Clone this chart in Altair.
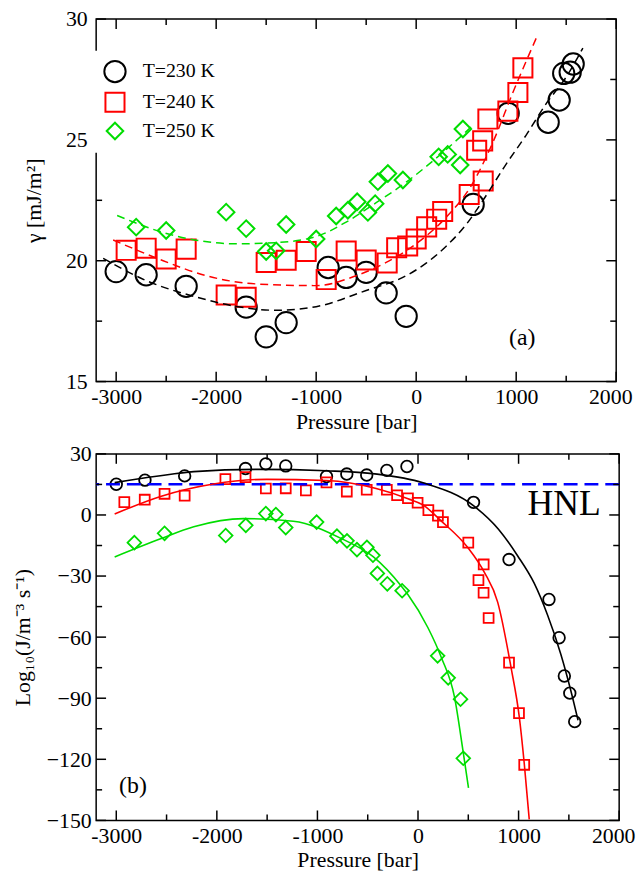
import altair as alt
import pandas as pd

FONT = "Liberation Serif"
SERIES = ["T=230 K", "T=240 K", "T=250 K"]
COLORS = ["#000000", "#ff0000", "#00dd00"]
SHAPES = ["circle", "square", "diamond"]

# ---------------- panel (a): surface tension ----------------
a230_p = [-3000, -2700, -2300, -1700, -1500, -1300, -880, -700, -500, -300, -100, 570, 920, 1320, 1430, 1475, 1540, 1570]
a230_g = [19.55, 19.42, 18.94, 18.08, 16.85, 17.44, 19.72, 19.31, 19.52, 18.67, 17.70, 22.33, 26.10, 25.73, 26.65, 27.75, 27.80, 28.14]

a240_p = [-2900, -2700, -2500, -2300, -1900, -1700, -1500, -1300, -1100, -900, -700, -500, -290, -195, -85, 0, 105, 205, 265, 530, 670, 605, 665, 717, 917, 1017, 1067]
a240_g = [20.43, 20.52, 20.07, 20.48, 18.58, 18.49, 19.93, 20.02, 20.38, 19.22, 20.40, 20.03, 19.91, 20.54, 20.61, 20.90, 21.40, 21.72, 22.04, 22.74, 23.30, 24.57, 24.96, 25.86, 26.19, 26.96, 27.98]

a250_p = [-2800, -2500, -1900, -1700, -1500, -1400, -1300, -1000, -800, -683, -590, -483, -410, -383, -283, -133, 225, 315, 440, 467]
a250_g = [21.39, 21.25, 22.01, 21.33, 20.38, 20.41, 21.50, 20.90, 21.85, 22.09, 22.44, 22.00, 22.36, 23.27, 23.61, 23.34, 24.30, 24.40, 23.96, 25.45]

fa230_p = [-3130, -2700, -2200, -1800, -1400, -1000, -500, -100, 100, 300, 500, 700, 900, 1100, 1300, 1500, 1667]
fa230_g = [20.10, 19.18, 18.50, 18.11, 17.95, 18.10, 18.77, 19.38, 19.90, 20.60, 21.50, 22.70, 24.00, 25.20, 26.50, 27.60, 28.80]

fa240_p = [-3030, -2530, -2100, -1600, -1000, -600, -300, 0, 300, 550, 767, 967, 1210]
fa240_g = [20.86, 20.00, 19.38, 19.04, 18.97, 19.38, 19.93, 20.70, 21.80, 23.10, 24.90, 26.96, 29.30]

fa250_p = [-2990, -2400, -1800, -1400, -1000, -700, -400, -100, 230, 567]
fa250_g = [21.87, 21.02, 20.70, 20.75, 21.00, 21.60, 22.40, 23.25, 24.35, 25.60]

# ---------------- panel (b): nucleation rate ----------------
b230_p = [-3000, -2715, -2320, -1715, -1513, -1315, -910, -708, -510, -310, -110, 552, 905, 1302, 1403, 1455, 1509, 1558]
b230_v = [15.1, 17.1, 19.2, 22.8, 25.1, 24.1, 18.9, 20.1, 19.6, 21.9, 23.8, 6.2, -21.9, -41.5, -60.3, -79.1, -87.5, -101.5]

b240_p = [-2920, -2717, -2520, -2320, -1915, -1715, -1513, -1315, -1115, -910, -708, -510, -310, -208, -100, -4, 103, 198, 248, 500, 601, 653, 652, 702, 905, 1004, 1056]
b240_v = [6.3, 7.5, 10.4, 9.5, 17.6, 18.6, 13.0, 13.1, 12.1, 16.0, 11.5, 12.4, 12.4, 9.7, 8.2, 6.0, 2.4, -0.3, -3.5, -13.6, -32.0, -24.3, -38.2, -50.6, -72.5, -97.3, -122.7]

b250_p = [-2820, -2520, -1912, -1712, -1513, -1413, -1315, -1008, -806, -706, -607, -508, -448, -404, -305, -158, 195, 300, 423, 450]
b250_v = [-13.6, -9.0, -10.1, -5.1, 0.7, 0.2, -6.2, -3.5, -10.4, -12.7, -17.0, -15.9, -19.8, -28.7, -33.8, -37.2, -69.2, -80.0, -90.5, -119.5]

fb230_p = [-3016, -2600, -2230, -1570, -911, -429, 50, 561, 800, 990, 1155, 1287, 1420, 1519, 1591]
fb230_v = [15.9, 19.0, 21.3, 22.4, 21.7, 20.2, 15.8, 4.2, -7.0, -20.0, -33.5, -49.0, -68.4, -86.2, -100.8]

fb240_p = [-3016, -2560, -2033, -1505, -911, -416, -99, 47, 232, 495, 660, 792, 925, 1007, 1056, 1106]
fb240_v = [0.5, 9.1, 15.2, 17.5, 16.9, 13.0, 8.0, 5.0, -3.0, -16.0, -28.2, -42.8, -74.9, -99.2, -121.9, -149.5]

fb250_p = [-3016, -2560, -2230, -1735, -1240, -745, -446, -165, -99, 99, 232, 363, 446, 502]
fb250_v = [-20.6, -11.7, -5.8, -1.8, -3.1, -12.0, -20.5, -35.0, -39.2, -55.4, -70.0, -89.5, -115.4, -134.0]

hnl_v = [15.1]

# axis tick values
x_major = [-3000, -2000, -1000, 0, 1000, 2000]
x_minor = [-2500, -1500, -500, 500, 1500]
ya_major = [15, 20, 25, 30]
ya_minor = [17.5, 22.5, 27.5]
yb_major = [-150, -120, -90, -60, -30, 0, 30]
yb_minor = [-135, -105, -75, -45, -15, 15]

WA, HA = 525, 366
WB, HB = 528, 370

xs = alt.Scale(domain=[-3200, 2000], nice=False, zero=False)
ysa = alt.Scale(domain=[15, 30], nice=False, zero=False)
ysb = alt.Scale(domain=[-150, 30], nice=False, zero=False)


def frame_ticks(xscale, yscale, ymaj, ymin, W, H):
    layers = []
    for vals, L in ((x_major, 10), (x_minor, 6)):
        base = alt.Chart(pd.DataFrame({"P": vals})).mark_rule(color="black", strokeWidth=1.5)
        layers.append(base.encode(x=alt.X("P:Q", scale=xscale), y=alt.value(H), y2=alt.value(H - L)))
        layers.append(base.encode(x=alt.X("P:Q", scale=xscale), y=alt.value(0), y2=alt.value(L)))
    for vals, L in ((ymaj, 10), (ymin, 6)):
        base = alt.Chart(pd.DataFrame({"y": vals})).mark_rule(color="black", strokeWidth=1.5)
        layers.append(base.encode(y=alt.Y("y:Q", scale=yscale), x=alt.value(0), x2=alt.value(L)))
        layers.append(base.encode(y=alt.Y("y:Q", scale=yscale), x=alt.value(W), x2=alt.value(W - L)))
    return layers


x_axis = alt.Axis(values=x_major, title="Pressure [bar]", labelExpr="'' + datum.value",
                  labelPadding=5, titlePadding=4, labelOverlap=False,
                  labelFlush=5, labelFlushOffset=16)

# ---- panel (a)
pts_a = pd.concat([
    pd.DataFrame({"P": a230_p, "y": a230_g, "T": SERIES[0]}),
    pd.DataFrame({"P": a240_p, "y": a240_g, "T": SERIES[1]}),
    pd.DataFrame({"P": a250_p, "y": a250_g, "T": SERIES[2]}),
])

leg = alt.Legend(title=None, orient="none", legendX=-2, legendY=32, fillColor="white",
                 padding=9, labelFont=FONT, labelFontSize=20, labelColor="black",
                 symbolStrokeWidth=2, rowPadding=2, labelOffset=16)

pts_a_chart = alt.Chart(pts_a).mark_point(filled=False, strokeWidth=2, opacity=1).encode(
    x=alt.X("P:Q", scale=xs, axis=x_axis),
    y=alt.Y("y:Q", scale=ysa, axis=alt.Axis(values=ya_major, title="γ [mJ/m²]", labelPadding=9,
                                               titlePadding=20, labelOverlap=False, labelFlush=False)),
    color=alt.Color("T:N", scale=alt.Scale(domain=SERIES, range=COLORS), legend=leg),
    shape=alt.Shape("T:N", scale=alt.Scale(domain=SERIES, range=SHAPES), legend=leg),
    size=alt.Size("T:N", scale=alt.Scale(domain=SERIES, range=[462, 279, 720]), legend=leg),
)

fit_a = []
for p, g, c in ((fa230_p, fa230_g, COLORS[0]), (fa240_p, fa240_g, COLORS[1]), (fa250_p, fa250_g, COLORS[2])):
    fit_a.append(alt.Chart(pd.DataFrame({"P": p, "y": g})).mark_line(
        color=c, strokeWidth=1.5, strokeDash=[8, 5], interpolate="monotone", clip=True).encode(
        x=alt.X("P:Q", scale=xs), y=alt.Y("y:Q", scale=ysa)))

lab_a = alt.Chart(pd.DataFrame({"P": [1060], "y": [16.8], "t": ["(a)"]})).mark_text(
    font=FONT, fontSize=24, color="black").encode(
    x=alt.X("P:Q", scale=xs), y=alt.Y("y:Q", scale=ysa), text="t:N")

top = alt.layer(pts_a_chart, *fit_a, lab_a, *frame_ticks(xs, ysa, ya_major, ya_minor, WA, HA)).properties(
    width=WA, height=HA)

# ---- panel (b)
b_y_axis = alt.Axis(values=yb_major, title="Log₁₀(J/m⁻³ s⁻¹)", labelPadding=5, titlePadding=12,
                    labelOverlap=False, labelFlush=False)

pts_b = []
for i, (p, v, c, s, sz) in enumerate(((b230_p, b230_v, COLORS[0], "circle", 137),
                                      (b240_p, b240_v, COLORS[1], "square", 100),
                                      (b250_p, b250_v, COLORS[2], "diamond", 190))):
    if i == 0:
        enc = dict(x=alt.X("P:Q", scale=xs, axis=x_axis), y=alt.Y("y:Q", scale=ysb, axis=b_y_axis))
    else:
        enc = dict(x=alt.X("P:Q", scale=xs), y=alt.Y("y:Q", scale=ysb))
    pts_b.append(alt.Chart(pd.DataFrame({"P": p, "y": v})).mark_point(
        filled=False, color=c, shape=s, size=sz, strokeWidth=1.8, opacity=1).encode(**enc))

hnl = alt.Chart(pd.DataFrame({"y": hnl_v})).mark_rule(
    color="#0000ff", strokeWidth=2.5, strokeDash=[14, 7]).encode(y=alt.Y("y:Q", scale=ysb))

fit_b = []
for p, v, c in ((fb230_p, fb230_v, COLORS[0]), (fb240_p, fb240_v, COLORS[1]), (fb250_p, fb250_v, COLORS[2])):
    fit_b.append(alt.Chart(pd.DataFrame({"P": p, "y": v})).mark_line(
        color=c, strokeWidth=1.6, interpolate="monotone", clip=True).encode(
        x=alt.X("P:Q", scale=xs), y=alt.Y("y:Q", scale=ysb)))

lab_b = alt.Chart(pd.DataFrame({"P": [-2834, 1452], "y": [-133.3, 5.4], "t": ["(b)", "HNL"],
                                "fs": [24, 36]})).mark_text(font=FONT, color="black").encode(
    x=alt.X("P:Q", scale=xs), y=alt.Y("y:Q", scale=ysb), text="t:N",
    size=alt.Size("fs:Q", scale=None, legend=None))

bottom = alt.layer(*pts_b, hnl, *fit_b, lab_b, *frame_ticks(xs, ysb, yb_major, yb_minor, WB, HB)).properties(
    width=WB, height=HB)

chart = alt.vconcat(top, bottom, spacing=9).properties(
    padding={"left": 2, "top": -5, "right": 0, "bottom": 0}
).configure_view(stroke="black", strokeWidth=1.5).configure_axis(
    labelFont=FONT, titleFont=FONT, labelColor="black", titleColor="black",
    titleFontWeight="normal", grid=False, ticks=False, domain=False,
    labelFontSize=22, titleFontSize=22)

chart.save("out.html", embed_options={"renderer": "svg", "actions": False})
